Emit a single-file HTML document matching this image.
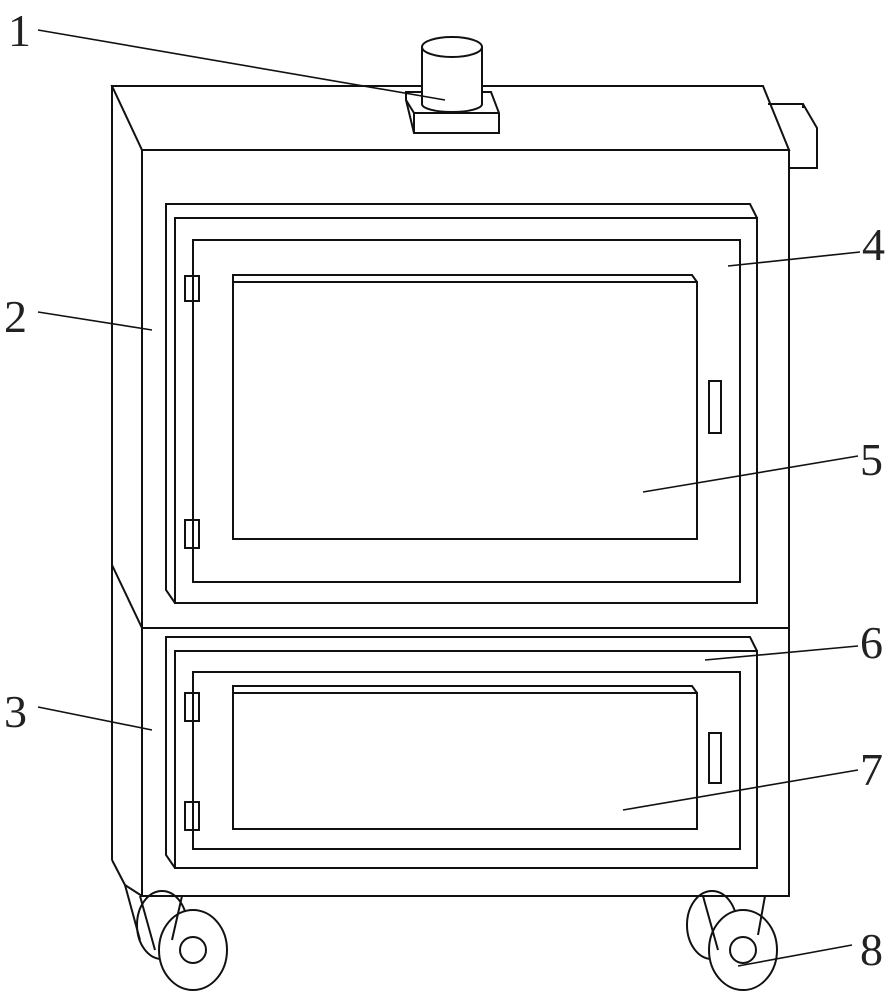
<!DOCTYPE html>
<html><head><style>
html,body{margin:0;padding:0;background:#fff;}
svg{display:block}
text{font-family:"Liberation Serif",serif;font-size:46px;fill:#222}
</style></head><body>
<svg width="894" height="1000" viewBox="0 0 894 1000" fill="none" stroke="#111" stroke-width="2">
<!-- top & side -->
<polygon points="112,86 763,86 789,150 142,150" fill="#fff"/>
<line x1="112" y1="86" x2="112" y2="860"/>
<line x1="112" y1="565" x2="142" y2="628"/>
<polyline points="112,860 125,885 142,896"/>
<rect x="142" y="150" width="647" height="746" fill="#fff"/>
<line x1="142" y1="628" x2="789" y2="628"/>
<!-- right box -->
<polyline points="768,104 803,104 817,128 817,168 789,168"/>
<line x1="803" y1="104" x2="803" y2="108"/>
<!-- base plate + cylinder -->
<polygon points="406,92 491,92 499,113 499,133 414,133 406,100" fill="#fff"/>
<line x1="414" y1="113" x2="499" y2="113"/>
<line x1="414" y1="113" x2="414" y2="133"/>
<line x1="406" y1="100" x2="414" y2="113"/>
<path d="M422,47 L422,104 A30,8 0 0 0 482,104 L482,47" fill="#fff"/>
<ellipse cx="452" cy="47" rx="30" ry="10" fill="#fff"/>
<!-- upper door -->
<polyline points="175,603 166,590 166,204 750,204 757,218"/>
<rect x="175" y="218" width="582" height="385" fill="#fff"/>
<rect x="193" y="240" width="547" height="342"/>
<rect x="233" y="282" width="464" height="257"/>
<polyline points="233,282 233,275 692,275 697,282"/>
<rect x="709" y="381" width="12" height="52"/>
<rect x="185" y="276" width="14" height="25"/>
<rect x="185" y="520" width="14" height="28"/>
<!-- lower door -->
<polyline points="175,868 166,855 166,637 750,637 757,651"/>
<rect x="175" y="651" width="582" height="217" fill="#fff"/>
<rect x="193" y="672" width="547" height="177"/>
<rect x="233" y="693" width="464" height="136"/>
<polyline points="233,693 233,686 692,686 697,693"/>
<rect x="709" y="733" width="12" height="50"/>
<rect x="185" y="693" width="14" height="28"/>
<rect x="185" y="802" width="14" height="28"/>
<!-- wheels -->
<ellipse cx="162" cy="925" rx="25" ry="34"/>
<ellipse cx="193" cy="950" rx="34" ry="40" fill="#fff"/>
<circle cx="193" cy="950" r="13"/>
<polyline points="140,896 155,950"/><polyline points="182,896 172,940"/>
<line x1="125" y1="885" x2="140" y2="940"/>
<ellipse cx="712" cy="925" rx="25" ry="34"/>
<ellipse cx="743" cy="950" rx="34" ry="40" fill="#fff"/>
<circle cx="743" cy="950" r="13"/>
<polyline points="703,896 718,950"/><polyline points="765,896 758,935"/>
<!-- leaders -->
<g stroke-width="1.6">
<line x1="38" y1="30" x2="445" y2="100"/>
<line x1="38" y1="312" x2="152" y2="330"/>
<line x1="38" y1="707" x2="152" y2="730"/>
<line x1="860" y1="252" x2="728" y2="266"/>
<line x1="858" y1="456" x2="643" y2="492"/>
<line x1="858" y1="646" x2="705" y2="660"/>
<line x1="858" y1="770" x2="623" y2="810"/>
<line x1="852" y1="945" x2="738" y2="966"/>
</g>
<g stroke="none">
<text x="8" y="46">1</text>
<text x="4" y="332">2</text>
<text x="4" y="727">3</text>
<text x="862" y="260">4</text>
<text x="860" y="475">5</text>
<text x="860" y="658">6</text>
<text x="860" y="785">7</text>
<text x="860" y="965">8</text>
</g>
</svg>
</body></html>
